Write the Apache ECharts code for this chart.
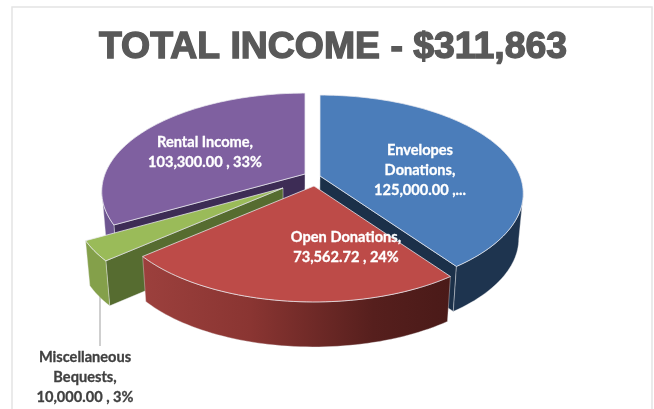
<!DOCTYPE html>
<html>
<head>
<meta charset="utf-8">
<style>html,body{margin:0;padding:0;background:#fff}#main{width:654px;height:409px}</style>
<script src="https://cdn.jsdelivr.net/npm/echarts@6/dist/echarts.min.js"></script>
</head>
<body>
<div id="main"></div>
<script>
// data, clockwise from 12 o'clock
const categories = ['Envelopes Donations', 'Open Donations', 'Miscellaneous Bequests', 'Rental Income'];
const values = [125000, 73562.72, 10000, 103300];
const labelTexts = [
    'Envelopes\nDonations,\n125,000.00 ,...',
    'Open Donations,\n73,562.72 , 24%',
    'Miscellaneous\nBequests,\n10,000.00 , 3%',
    'Rental Income,\n103,300.00 , 33%'
];
const titleText = 'TOTAL INCOME - $311,863';

// painter's order: back slices first
const paintOrder = [3, 0, 2, 1];

// per slice look
const apexes = [[320, 176], [314, 186], [283, 188], [305, 174]];
const radii = [200, 200, 206, 200];
const topColors = ['#4b7dba', '#bd4b48', '#9abb59', '#7f60a0'];
const outerColors = ['#1e344f', null, '#84a04a', '#6d5590'];
const innerColors = ['#1b3049', '#4e1c1a', '#566c30', '#3d2c55'];
const labelPos = [[420, 170], [346, 247], [85, 377], [205, 152]];
const labelColors = ['#fff', '#fff', '#404040', '#fff'];

// tilted disc with a little perspective
const backness = 0.178, tiltRy = 95.3, depth = 45, vanishX = 300, shrink = 0.98;

const total = values.reduce(function (a, b) { return a + b; }, 0);
let cum = 0;
const rows = values.map(function (v, i) {
    const start = cum / total * 360;
    cum += v;
    return [i, start, cum / total * 360];
});

function project(deg, r, apex) {
    const a = deg * Math.PI / 180;
    const x = Math.sin(a) * r / 200, y = -Math.cos(a) * r / 200;
    const s = 1 / (1 - backness * y);
    return [apex[0] + 200 * x * s, apex[1] + tiltRy * y * s];
}
function drop(p) {
    return [vanishX + (p[0] - vanishX) * shrink, p[1] + depth];
}
function wallPoly(pts) {
    return pts.concat(pts.slice().reverse().map(drop));
}

function renderSlice(params, api) {
    const i = api.value(0), start = api.value(1), end = api.value(2);
    const apex = apexes[i], r = radii[i];
    const edge = 'rgba(235,235,240,0.75)';
    const arc = [];
    for (let d = start; d < end; d += 1.5) arc.push(project(d, r, apex));
    arc.push(project(end, r, apex));
    const children = [];

    if (i === 2) {
        // leader line of the outside label
        children.push({
            type: 'line',
            shape: { x1: 100, y1: 290, x2: 100, y2: 346 },
            style: { stroke: '#bfbfbf', lineWidth: 1.5 }
        });
    }
    // only the faces running leftwards on screen look at the viewer
    if (arc[0][0] < apex[0]) {
        children.push({
            type: 'polygon', shape: { points: wallPoly([apex, arc[0]]) },
            style: { fill: innerColors[i], stroke: edge, lineWidth: 0.6 }
        });
    }
    if (arc[arc.length - 1][0] > apex[0]) {
        children.push({
            type: 'polygon', shape: { points: wallPoly([arc[arc.length - 1], apex]) },
            style: { fill: innerColors[i], stroke: edge, lineWidth: 0.6 }
        });
    }
    let run = [];
    const flush = function () {
        if (run.length > 1) {
            const fill = outerColors[i] || {
                type: 'linear', x: 0, y: 0, x2: 1, y2: 0,
                colorStops: [
                    { offset: 0, color: '#9c403d' },
                    { offset: 0.35, color: '#8a3532' },
                    { offset: 0.75, color: '#561f1d' },
                    { offset: 1, color: '#4a1a18' }
                ]
            };
            children.push({
                type: 'polygon', shape: { points: wallPoly(run) },
                style: { fill: fill, stroke: edge, lineWidth: 0.5 }
            });
        }
        run = [];
    };
    for (let k = 0; k < arc.length - 1; k++) {
        if (arc[k + 1][0] < arc[k][0]) {
            if (!run.length) run.push(arc[k]);
            run.push(arc[k + 1]);
        } else {
            flush();
        }
    }
    flush();

    children.push({
        type: 'polygon', shape: { points: [apex].concat(arc) },
        style: { fill: topColors[i], stroke: edge, lineWidth: 1 }
    });
    children.push({
        type: 'text',
        style: {
            text: labelTexts[i], x: labelPos[i][0], y: labelPos[i][1],
            align: 'center', verticalAlign: 'middle', lineHeight: 20,
            fill: labelColors[i], fontFamily: 'Lato', fontWeight: 'bold', fontSize: 14.6,
            stroke: labelColors[i], lineWidth: 0.3
        }
    });
    return { type: 'group', children: children };
}

const myChart = echarts.init(document.getElementById('main'));
myChart.setOption({
    animation: false,
    backgroundColor: '#fff',
    title: {
        text: titleText, left: 328, top: 24, textAlign: 'center',
        textStyle: {
            color: '#595959', fontFamily: 'Liberation Sans', fontWeight: 'bold', fontSize: 37.4,
            textBorderColor: '#595959', textBorderWidth: 1.4
        }
    },
    graphic: [{
        type: 'rect', silent: true,
        shape: { x: 12, y: 7, width: 640, height: 420 },
        style: { fill: 'none', stroke: '#e4e4e4', lineWidth: 1.5 }
    }],
    series: [{
        type: 'custom',
        coordinateSystem: 'none',
        renderItem: renderSlice,
        data: paintOrder.map(function (i) { return rows[i]; }),
        silent: true
    }]
});
</script>
</body>
</html>
